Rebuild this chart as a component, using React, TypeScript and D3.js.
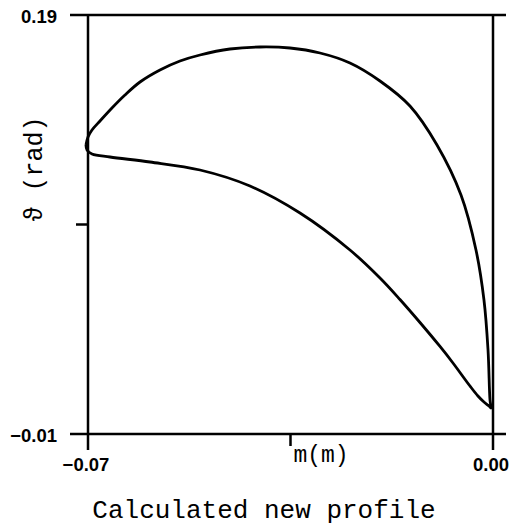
import React from 'react'
import * as d3 from 'd3'

// upper surface, leading edge -> trailing edge
const upperM = [-0.07035, -0.07, -0.06931, -0.06793, -0.06586, -0.06361, -0.06101, -0.05756, -0.0541, -0.05064, -0.04546, -0.04027, -0.03509, -0.0299, -0.02472, -0.01953, -0.01435, -0.00968, -0.00553, -0.00294, -0.00156, -0.00086, -0.00052, -0.00035]
const upperTheta = [0.12795, 0.13177, 0.13511, 0.1394, 0.14561, 0.15181, 0.15802, 0.16375, 0.16804, 0.17091, 0.17377, 0.17473, 0.17425, 0.17186, 0.16709, 0.1585, 0.14656, 0.12795, 0.10408, 0.07783, 0.05396, 0.0301, 0.00623, 0.00241]
// lower surface, trailing edge -> leading edge
const lowerM = [-0.00069, -0.00156, -0.0026, -0.00398, -0.00692, -0.00916, -0.01262, -0.01608, -0.01953, -0.02472, -0.03336, -0.042, -0.05064, -0.05928, -0.0662, -0.06931, -0.07017]
const lowerTheta = [0.00337, 0.00527, 0.00814, 0.01291, 0.02389, 0.03177, 0.04322, 0.0542, 0.06446, 0.07783, 0.09548, 0.10837, 0.11601, 0.11983, 0.12222, 0.12365, 0.12556]

const xTicks = [-0.07, -0.035, 0.0]
const xTickLabels = ['\u22120.07', '', '0.00']
const yTicks = [-0.01, 0.09, 0.19]
const yTickLabels = ['\u22120.01', '', '0.19']

const W = 512
const H = 531

export default function App() {
  const x = d3.scaleLinear().domain([-0.07, 0]).range([88, 493])
  const y = d3.scaleLinear().domain([-0.01, 0.19]).range([434, 15])

  const pts: [number, number][] = [
    ...upperM.map((m, i) => [m, upperTheta[i]] as [number, number]),
    ...lowerM.map((m, i) => [m, lowerTheta[i]] as [number, number]),
    [upperM[0], upperTheta[0]],
  ]
  const line = d3
    .line<[number, number]>()
    .x((d) => x(d[0]))
    .y((d) => y(d[1]))
    .curve(d3.curveCatmullRom.alpha(0.5))

  const x0 = x(-0.07)
  const x1 = x(0)
  const y0 = y(-0.01)
  const y1 = y(0.19)
  const tickFont = { fontFamily: '"Liberation Sans", Arial, sans-serif', fontWeight: 700, fontSize: 18.5 }

  return (
    <svg width={W} height={H} style={{ position: 'absolute', left: 0, top: 0, background: '#fff' }}>
      <g stroke="#000" strokeWidth={2.5} fill="none">
        {/* frame */}
        <line x1={70} x2={506} y1={y1} y2={y1} />
        <line x1={70} x2={506} y1={y0} y2={y0} />
        <line x1={x0} x2={x0} y1={y1} y2={450} />
        <line x1={x1} x2={x1} y1={y1} y2={450} />
        {/* inner ticks */}
        {yTicks.slice(1, 2).map((t) => (
          <line key={t} x1={x0 - 12} x2={x0} y1={y(t)} y2={y(t)} />
        ))}
        {xTicks.slice(1, 2).map((t) => (
          <line key={t} x1={x(t)} x2={x(t)} y1={y0} y2={y0 + 12} />
        ))}
        <path d={line(pts) ?? ''} strokeWidth={2.8} strokeLinejoin="round" />
      </g>
      {yTicks.map((t, i) => (
        <text key={t} x={57} y={y(t) + 8} textAnchor="end" style={tickFont}>
          {yTickLabels[i]}
        </text>
      ))}
      {xTicks.map((t, i) => (
        <text key={t} x={x(t) - 2} y={471} textAnchor="middle" style={tickFont}>
          {xTickLabels[i]}
        </text>
      ))}
      <text x={321} y={462} textAnchor="middle" style={{ fontFamily: '"Liberation Mono", monospace', fontSize: 23 }}>
        m(m)
      </text>
      <text
        transform={`translate(42,${169}) rotate(-90)`}
        textAnchor="middle"
        style={{ fontFamily: '"Liberation Mono", monospace', fontSize: 25 }}
      >
        {'\u03d1 (rad)'}
      </text>
      <text x={264} y={518} textAnchor="middle" style={{ fontFamily: '"Liberation Mono", monospace', fontSize: 26 }}>
        Calculated new profile
      </text>
    </svg>
  )
}
